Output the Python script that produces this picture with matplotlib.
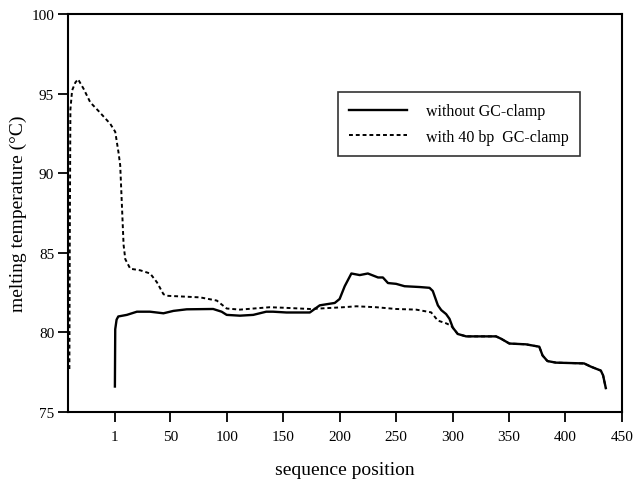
import numpy as np
import matplotlib
matplotlib.use("Agg")
import matplotlib.pyplot as plt

plt.rcParams["font.family"] = ["Liberation Serif", "DejaVu Serif"]

# melting profile without clamp (positions 1..436)
pos_plain = [1, 1.3, 2.5, 4, 11.6, 20.5, 32, 44, 52.8, 64.6, 88, 95.5, 100, 111.7,
             123.5, 135, 141, 153, 173.6, 182.4, 195.7, 200, 204.5, 210.4, 217.8,
             225, 234, 238.3, 242.8, 250, 257.5, 270.8, 279.6, 282.5, 287, 290,
             294.3, 297.3, 300.2, 304.6, 312, 338.5, 343, 350.3, 365, 376.8, 379.7,
             384, 391.5, 416.5, 422.4, 431.3, 433.3, 435.7]
tm_plain = [76.6, 80.2, 80.8, 81.0, 81.1, 81.3, 81.3, 81.2, 81.35, 81.45, 81.47, 81.3,
            81.1, 81.05, 81.1, 81.3, 81.3, 81.25, 81.25, 81.7, 81.85, 82.1, 82.9,
            83.7, 83.6, 83.7, 83.45, 83.45, 83.1, 83.05, 82.9, 82.85, 82.8, 82.6,
            81.7, 81.4, 81.15, 80.85, 80.3, 79.9, 79.75, 79.75, 79.6, 79.3, 79.25,
            79.1, 78.55, 78.2, 78.1, 78.05, 77.85, 77.6, 77.3, 76.5]

# melting profile with 40 bp GC-clamp (positions -39..436)
pos_clamp = [-39.3, -39.0, -38.4, -36.9, -34, -31.6, -26.7, -20.8, -13.4, -3.1, 1.3,
             4.2, 5.7, 7.2, 8.7, 10.2, 14.6, 23.4, 32.2, 38.2, 44, 47, 76.4, 91.2,
             100, 111.7, 138, 150, 173.6, 182.4, 203, 214.8, 232.5, 250, 267.8, 281,
             287, 294.3, 298.8, 300.2, 304.6, 312, 338.5, 343, 350.3, 365, 376.8,
             379.7, 384, 391.5, 416.5, 422.4, 431.3, 433.3, 435.7]
tm_clamp = [77.7, 85.0, 94.0, 95.2, 95.7, 95.9, 95.3, 94.45, 93.9, 93.1, 92.6,
            91.3, 90.5, 88.0, 85.5, 84.6, 84.0, 83.9, 83.7, 83.15, 82.4, 82.3, 82.2,
            82.0, 81.5, 81.43, 81.58, 81.55, 81.47, 81.5, 81.58, 81.64, 81.58, 81.47,
            81.43, 81.26, 80.74, 80.57, 80.42, 80.3, 79.9, 79.75, 79.75, 79.6, 79.3,
            79.25, 79.1, 78.55, 78.2, 78.1, 78.05, 77.85, 77.6, 77.3, 76.5]

xticks = [1, 50, 100, 150, 200, 250, 300, 350, 400, 450]
yticks = [75, 80, 85, 90, 95, 100]

fig = plt.figure(figsize=(6.34, 4.81), dpi=100)
ax = fig.add_axes([0.1073, 0.1414, 0.8737, 0.8274])

ax.plot(pos_plain, tm_plain, color="black", lw=1.7, label="without GC-clamp")
ax.plot(pos_clamp, tm_clamp, color="black", lw=1.4, ls=(0, (2, 1.5)),
        label="with 40 bp  GC-clamp")

ax.set_xlim(-40.5, 450)
ax.set_ylim(75, 100)
ax.set_xticks(xticks)
ax.set_yticks(yticks)
ax.tick_params(direction="out", length=7, width=1.3, labelsize=11)
ax.tick_params(axis="x", pad=6)
ax.tick_params(axis="y", pad=3)
for s in ax.spines.values():
    s.set_linewidth(1.5)

ax.set_xlabel("sequence position", fontsize=14, labelpad=13)
ax.set_ylabel("melting temperature (°C)", fontsize=14, labelpad=3)

leg = ax.legend(loc="upper left", bbox_to_anchor=(0.487, 0.805), borderaxespad=0,
                fancybox=False, edgecolor="black", fontsize=11.5, handlelength=3.6,
                handletextpad=1.2, borderpad=0.72, labelspacing=0.6)
leg.get_frame().set_linewidth(1.2)

fig.savefig("out.png", dpi=100)
